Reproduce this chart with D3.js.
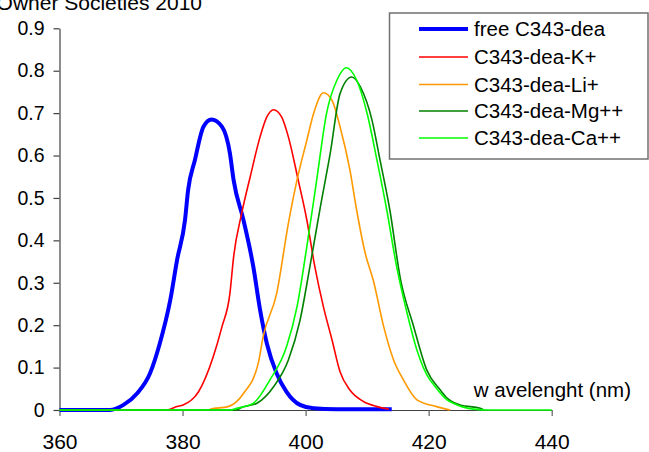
<!DOCTYPE html>
<html>
<head>
  <meta charset="utf-8">
  <script src="https://d3js.org/d3.v7.min.js"></script>
  <style>
    body { margin: 0; background: #fff; }
    text { font-family: "Liberation Sans", Arial, sans-serif; fill: #000; }
  </style>
</head>
<body>
  <div id="chart"></div>
  <script type="text/javascript">

    // values: wavelength (nm) / absorbance
    var freeX = [360, 368.2, 370.4, 372.6, 374.7, 376.3, 378.0, 379.1, 380.4, 380.9, 382.0, 383.4, 384.7, 386.4, 387.7, 388.3, 389.9, 391.5, 392.6, 393.7, 395.3, 396.9, 399.1, 401.3, 405, 414];
    var freeY = [0, 0, 0.012, 0.039, 0.086, 0.157, 0.259, 0.353, 0.448, 0.518, 0.589, 0.668, 0.685, 0.668, 0.605, 0.542, 0.448, 0.338, 0.236, 0.157, 0.086, 0.043, 0.012, 0.004, 0.002, 0.002];

    var kX = [360, 377.4, 379.1, 380.1, 382.6, 385.0, 386.4, 387.7, 388.3, 389.6, 391.0, 392.6, 393.7, 394.8, 396.1, 397.2, 398.8, 400.2, 401.5, 402.9, 404.3, 405.6, 407.2, 409.4, 411.6, 413.5];
    var kY = [0, 0, 0.008, 0.012, 0.043, 0.126, 0.196, 0.275, 0.361, 0.463, 0.550, 0.644, 0.691, 0.708, 0.691, 0.644, 0.542, 0.448, 0.338, 0.243, 0.165, 0.090, 0.047, 0.020, 0.008, 0.002];

    var liX = [360, 384.2, 384.5, 387.4, 389.9, 392.3, 393.1, 395.3, 397.2, 398.6, 400.2, 401.3, 402.9, 404.3, 405.6, 407.2, 408.3, 409.7, 411.0, 412.7, 414.3, 415.9, 418.1, 421.3, 423.5];
    var liY = [0, 0, 0.002, 0.008, 0.039, 0.110, 0.173, 0.275, 0.440, 0.542, 0.636, 0.699, 0.748, 0.730, 0.668, 0.566, 0.471, 0.369, 0.306, 0.196, 0.118, 0.071, 0.024, 0.008, 0];

    var mgX = [360, 388.9, 389.3, 392.1, 394.8, 397.2, 399.1, 400.7, 402.4, 404.0, 405.6, 407.5, 408.9, 410.8, 412.1, 413.7, 415.4, 417.5, 419.7, 421.9, 423.0, 425.1, 428.4, 429];
    var mgY = [0, 0, 0.004, 0.016, 0.055, 0.118, 0.212, 0.338, 0.479, 0.605, 0.746, 0.785, 0.762, 0.683, 0.589, 0.471, 0.310, 0.200, 0.094, 0.047, 0.028, 0.012, 0.004, 0];

    var caX = [360, 387.9, 388.3, 391.5, 394.2, 396.9, 398.6, 400.2, 401.8, 403.4, 405.1, 406.6, 408.3, 410.0, 411.6, 413.2, 414.8, 416.5, 418.1, 420.2, 420.8, 423.0, 424.0, 427.3, 430, 440];
    var caY = [0, 0, 0.002, 0.016, 0.071, 0.149, 0.243, 0.385, 0.542, 0.699, 0.778, 0.807, 0.778, 0.699, 0.589, 0.471, 0.338, 0.228, 0.141, 0.071, 0.060, 0.024, 0.016, 0.002, 0, 0];

    var seriesNames = ["free C343-dea", "C343-dea-K+", "C343-dea-Li+", "C343-dea-Mg++", "C343-dea-Ca++"];
    var seriesColors = ["#0000ff", "#ff0000", "#ff9900", "#008000", "#00ff00"];
    var seriesWidths = [4, 1.6, 1.6, 1.6, 1.6];
    var xTicks = [360, 380, 400, 420, 440];
    var yTicks = [0, 0.1, 0.2, 0.3, 0.4, 0.5, 0.6, 0.7, 0.8, 0.9];

    var series = [[freeX, freeY], [kX, kY], [liX, liY], [mgX, mgY], [caX, caY]];

    var width = 649, height = 452;

    var svg = d3.select("#chart").append("svg")
      .attr("width", width)
      .attr("height", height);

    var x = d3.scaleLinear().domain([360, 440]).range([59.5, 551.7]);
    var y = d3.scaleLinear().domain([0, 0.9]).range([410, 28.3]);

    // clipped title at top left
    svg.append("text")
      .attr("x", 202)
      .attr("y", 10)
      .style("text-anchor", "end")
      .style("font-size", "21px")
      .text("Owner Societies 2010");

    // y axis
    var yAxis = svg.append("g")
      .attr("transform", "translate(" + x(360) + ",0)")
      .call(d3.axisLeft(y).tickValues(yTicks).tickSize(6).tickSizeOuter(0)
        .tickFormat(function(d) { return d3.format("")(+d.toFixed(1)); }));
    yAxis.select(".domain").attr("stroke", "#404040").attr("stroke-width", 1.2);
    yAxis.selectAll(".tick line").attr("stroke", "#404040").attr("stroke-width", 1.2);
    yAxis.selectAll(".tick text")
      .attr("x", -15)
      .style("font-size", "19.5px")
      .style("font-family", "'Liberation Sans', Arial, sans-serif")
      .attr("fill", "#000");

    // x axis
    var xAxis = svg.append("g")
      .attr("transform", "translate(0," + y(0) + ")")
      .call(d3.axisBottom(x).tickValues(xTicks).tickSize(6).tickSizeOuter(0));
    xAxis.select(".domain").attr("stroke", "#404040").attr("stroke-width", 1.2);
    xAxis.selectAll(".tick line").attr("stroke", "#606060").attr("stroke-width", 1.2);
    xAxis.selectAll(".tick text")
      .attr("y", 24)
      .style("font-size", "21px")
      .style("font-family", "'Liberation Sans', Arial, sans-serif")
      .attr("fill", "#000");

    // axis title inside plot
    svg.append("text")
      .attr("x", 631)
      .attr("y", 397)
      .style("text-anchor", "end")
      .style("font-size", "20.5px")
      .text("w avelenght (nm)");

    // curves
    var line = d3.line()
      .curve(d3.curveMonotoneX)
      .x(function(d) { return x(d[0]); })
      .y(function(d) { return y(d[1]); });

    series.forEach(function(s, i) {
      var pts = s[0].map(function(v, j) { return [v, s[1][j]]; });
      svg.append("path")
        .datum(pts)
        .attr("fill", "none")
        .attr("stroke", seriesColors[i])
        .attr("stroke-width", seriesWidths[i])
        .attr("stroke-linejoin", "round")
        .attr("d", line);
    });

    // legend
    var legend = svg.append("g");
    legend.append("rect")
      .attr("x", 389.5).attr("y", 13)
      .attr("width", 258.5).attr("height", 146)
      .attr("fill", "#fff")
      .attr("stroke", "#707070")
      .attr("stroke-width", 1.5);

    var rowY = [29, 57, 84.5, 111, 138];
    seriesNames.forEach(function(name, i) {
      legend.append("line")
        .attr("x1", 419).attr("x2", 468)
        .attr("y1", rowY[i]).attr("y2", rowY[i])
        .attr("stroke", seriesColors[i])
        .attr("stroke-width", seriesWidths[i]);
      legend.append("text")
        .attr("x", 474)
        .attr("y", rowY[i] + 7)
        .style("font-size", "20.5px")
        .text(name);
    });

  </script>
</body>
</html>
